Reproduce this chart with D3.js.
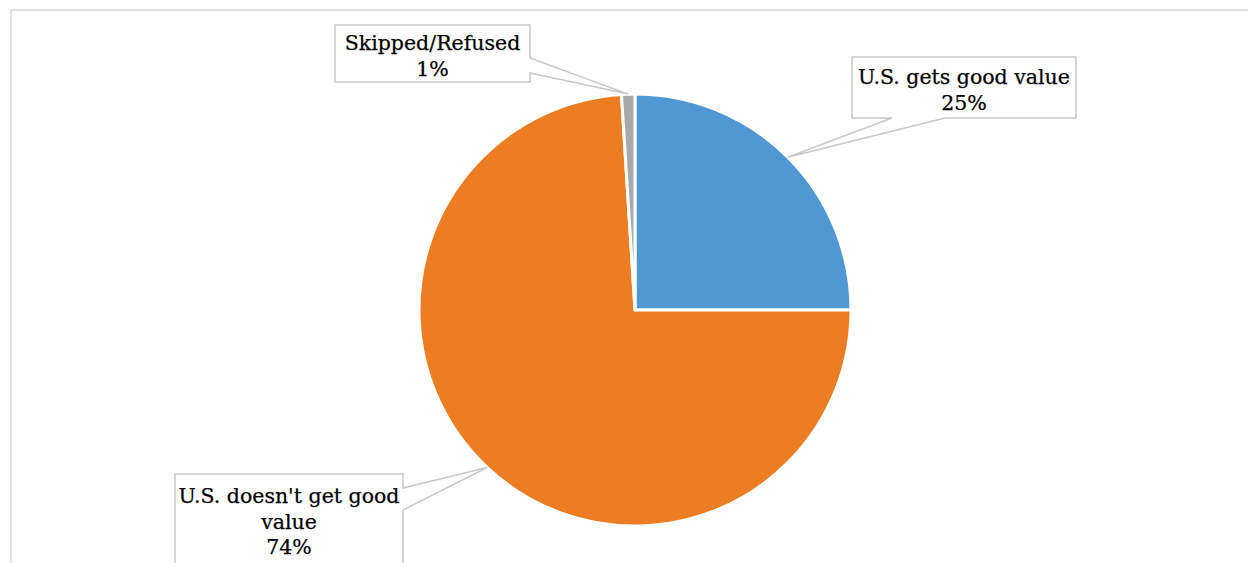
<!DOCTYPE html>
<html><head><meta charset="utf-8">
<script src="https://cdn.jsdelivr.net/npm/d3@7"></script>
<style>body{margin:0;background:#fff}svg{display:block}</style>
</head><body>
<svg id="c" width="1248" height="563"></svg>
<script>
const categories = ["U.S. gets good value", "U.S. doesn't get good value", "Skipped/Refused"];
const values = [25, 74, 1];
const valueLabels = ["25%", "74%", "1%"];
const labelLines = [["U.S. gets good value", "25%"], ["U.S. doesn't get good", "value", "74%"], ["Skipped/Refused", "1%"]];
const colors = ["#5097d3", "#ed7d22", "#a9a9a9"];

const svg = d3.select("#c");
// chart frame
svg.append("rect").attr("x", 11).attr("y", 10).attr("width", 1300).attr("height", 600)
  .attr("fill", "#fff").attr("stroke", "#d9d9d9").attr("stroke-width", 1.5);

const cx = 635, cy = 310, R = 216;
const pie = d3.pie().sort(null).value(d => d)(values);
const arc = d3.arc().innerRadius(0).outerRadius(R);
const edge = d3.arc().innerRadius(R).outerRadius(R);
const g = svg.append("g").attr("transform", `translate(${cx},${cy})`);
g.selectAll("path").data(pie).join("path")
  .attr("d", arc).attr("fill", (d, i) => colors[i])
  .attr("stroke", "#fff").attr("stroke-width", 3).attr("stroke-linejoin", "round");

// callout boxes (layout)
const boxes = [
  {x: 852, y: 57, w: 224, h: 61, side: "bottom", a: 892, b: 945, ty: 84},
  {x: 175, y: 474, w: 228, h: 90, side: "right", a: 488, b: 510, ty: 503},
  {x: 335, y: 25, w: 195, h: 57, side: "right", a: 58, b: 73, ty: 50}
];
const font = "'DejaVu Serif', serif";
boxes.forEach((bx, i) => {
  const c = edge.centroid(pie[i]);
  const tx = cx + c[0], ty = cy + c[1];
  let pts;
  const x0 = bx.x, y0 = bx.y, x1 = bx.x + bx.w, y1 = bx.y + bx.h;
  if (bx.side === "bottom") {
    pts = [[x0, y0], [x1, y0], [x1, y1], [bx.b, y1], [tx, ty], [bx.a, y1], [x0, y1]];
  } else {
    pts = [[x0, y0], [x1, y0], [x1, bx.a], [tx, ty], [x1, bx.b], [x1, y1], [x0, y1]];
  }
  svg.append("path").attr("d", d3.line()(pts) + "Z")
    .attr("fill", "#fff").attr("stroke", "#c8c8c8").attr("stroke-width", 1.5);
  const t = svg.append("text").attr("font-family", font).attr("font-size", 20.5)
    .attr("fill", "#000").attr("stroke", "#000").attr("stroke-width", 0.25)
    .attr("text-anchor", "middle");
  labelLines[i].forEach((ln, k) => {
    t.append("tspan").attr("x", x0 + bx.w / 2).attr("y", bx.ty + k * 25.5).text(ln);
  });
});
</script>
</body></html>
